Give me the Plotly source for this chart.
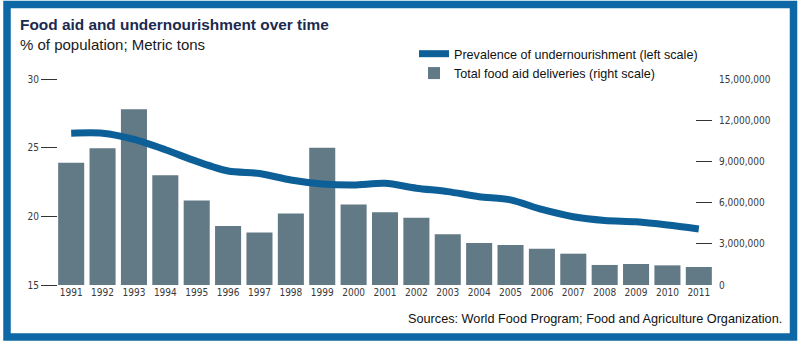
import plotly.graph_objects as go

# Years, food aid (metric tons) and prevalence of undernourishment (%)
years = [str(y) for y in range(1991, 2012)]
food_aid_tons = [8900000, 9950000, 12800000, 8000000, 6150000, 4300000, 3830000,
                 5200000, 10000000, 5870000, 5300000, 4900000, 3690000, 3060000,
                 2910000, 2640000, 2280000, 1460000, 1530000, 1430000, 1310000]
undernourishment_pct = [26.05, 26.05, 25.6, 24.85, 24.0, 23.3, 23.12, 22.65, 22.36,
                        22.28, 22.4, 22.05, 21.8, 21.43, 21.2, 20.5, 19.97, 19.7,
                        19.6, 19.37, 19.08]

left_ticks = [15, 20, 25, 30]
right_ticks = [0, 3000000, 6000000, 9000000, 12000000, 15000000]

BAR = "#627986"
LINE = "#0d5f97"
FRAME = "#0e68a5"
TICK_FONT = dict(family="Liberation Sans Narrow, DejaVu Sans Condensed, sans-serif",
                 size=10, color="#3a3a3a")

W, H = 800, 345
L, R, T, B = 58, 88, 79, 60
PW, PH = W - L - R, H - T - B


def px(x):
    return (x - L) / PW


def py(y):
    return (H - B - y) / PH


fig = go.Figure()

fig.add_trace(go.Scatter(
    x=years, y=undernourishment_pct, yaxis="y2", mode="lines",
    name="Prevalence of undernourishment (left scale)",
    line=dict(color=LINE, width=7, shape="spline", smoothing=0.8),
))
fig.add_trace(go.Bar(
    x=years, y=food_aid_tons, yaxis="y",
    name="Total food aid deliveries (right scale)",
    marker=dict(color=BAR, line=dict(width=0)),
))

fig.update_layout(
    width=W, height=H,
    margin=dict(l=L, r=R, t=T, b=B),
    paper_bgcolor="white", plot_bgcolor="white",
    bargap=0.17,
    font=dict(family="Liberation Sans, Arial, sans-serif"),
    xaxis=dict(
        type="category", showgrid=False, zeroline=False, showline=False,
        ticks="", tickfont=TICK_FONT, range=[-0.42, 20.42],
    ),
    yaxis=dict(
        side="right", range=[0, 15000000], tickvals=right_ticks,
        tickformat=",d", showgrid=False, zeroline=False, showline=False,
        ticks="inside", ticklen=16, tickwidth=1, tickcolor="#333333",
        tickfont=TICK_FONT, ticklabelstandoff=6,
    ),
    yaxis2=dict(
        side="left", overlaying="y", range=[15, 30], tickvals=left_ticks,
        showgrid=False, zeroline=False, showline=False,
        ticks="outside", ticklen=16, tickwidth=1, tickcolor="#333333",
        tickfont=TICK_FONT,
    ),
    legend=dict(
        x=px(414), y=py(39), xanchor="left", yanchor="top",
        bgcolor="rgba(0,0,0,0)", font=dict(size=12.6, color="#111111"),
        itemwidth=30, tracegroupgap=0, traceorder="normal",
    ),
    showlegend=True,
)

fig.add_annotation(
    xref="paper", yref="paper", x=px(18), y=py(14), xanchor="left", yanchor="top",
    text="<b>Food aid and undernourishment over time</b>", showarrow=False,
    font=dict(size=15.4, color="#1b2a4e"),
)
fig.add_annotation(
    xref="paper", yref="paper", x=px(18), y=py(34), xanchor="left", yanchor="top",
    text="% of population; Metric tons", showarrow=False,
    font=dict(size=15, color="#1a1a1a"),
)
fig.add_annotation(
    xref="paper", yref="paper", x=px(784), y=py(310), xanchor="right", yanchor="top",
    text="Sources: World Food Program; Food and Agriculture Organization.",
    showarrow=False, font=dict(size=12.7, color="#111111"),
)

# Blue frame around the whole graphic
fig.add_shape(
    type="rect", xref="paper", yref="paper",
    x0=px(7), x1=px(793.5), y0=py(337), y1=py(4.5),
    line=dict(color=FRAME, width=7.5), fillcolor="rgba(0,0,0,0)", layer="above",
)

fig.write_html("out.html")
